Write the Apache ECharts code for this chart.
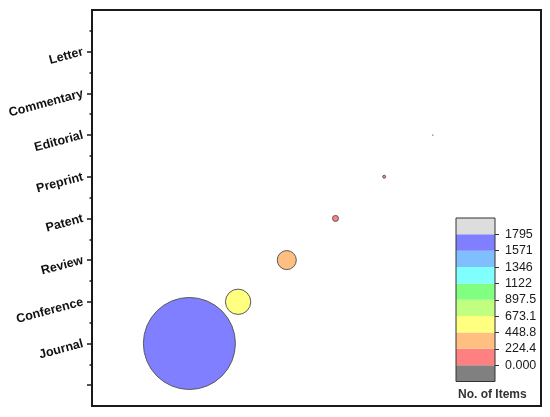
<!DOCTYPE html>
<html><head><meta charset="utf-8">
<script src="https://cdn.jsdelivr.net/npm/echarts@6/dist/echarts.min.js"></script>
<style>html,body{margin:0;padding:0;background:#fff}#c{width:550px;height:417px}</style>
</head><body><div id="c"></div>
<script>
const categories = ['Journal','Conference','Review','Patent','Preprint','Editorial','Commentary','Letter'];
const xPositions = [1,2,3,4,5,6,7,8];
const itemCounts = [1795,494,371,117,58,10,0,0];
const levelLabels = ['0.000','224.4','448.8','673.1','897.5','1122','1346','1571','1795'];
const levelStep = 224.375;
const levelColors = ['#808080','#FF8080','#FFBF80','#FFFF80','#C0FF80','#80FF80','#80FFFF','#80BFFF','#7F7FFF','#DDDDDD'];
const maxCount = 1795;

const FONT = 'Liberation Sans, Arial, sans-serif';
// y slots: index u = 2*v+1, v from -0.5 to 9
const slotCount = 20;
const slots = [];
for (let u = 0; u < slotCount; u++) {
  const k = (u - 1) / 2;
  slots.push(Number.isInteger(k) && k >= 1 && k <= categories.length ? categories[k - 1] : '');
}
const legendSlots = [''].concat(levelLabels, ['']);

const pieces = [{lt: 0, color: levelColors[0]}];
for (let i = 1; i <= 8; i++) {
  const lo = (i - 1) * levelStep, hi = i * levelStep;
  pieces.push(i === 8 ? {gte: lo, lte: hi, color: levelColors[i]} : {gte: lo, lt: hi, color: levelColors[i]});
}
pieces.push({gt: maxCount, color: levelColors[9]});

const barSeries = levelColors.map((c, i) => ({
  type: 'bar', stack: 'lv', xAxisIndex: 1, yAxisIndex: 2, barWidth: '100%', silent: true,
  data: [i === 0 ? -levelStep : levelStep], itemStyle: {color: c}
}));

const chart = echarts.init(document.getElementById('c'));
chart.setOption({
  animation: false,
  backgroundColor: '#fff',
  title: {text: 'No. of Items', left: 458, top: 389, padding: 0,
    textStyle: {fontSize: 12, fontWeight: 'bold', color: '#333', fontFamily: FONT}},
  grid: [
    {left: 92, top: 10, right: 9, bottom: 11, show: true, borderColor: '#1a1a1a', borderWidth: 2, backgroundColor: 'transparent'},
    {left: 456, top: 218, width: 39, height: 163.5, show: true, borderColor: '#333', borderWidth: 1, backgroundColor: 'transparent', z: 10}
  ],
  xAxis: [
    {type: 'value', gridIndex: 0, min: -1, max: 8.22, show: false},
    {type: 'category', gridIndex: 1, data: ['band'], show: false}
  ],
  yAxis: [
    {type: 'category', gridIndex: 0, data: slots, boundaryGap: false, position: 'left', offset: 0,
      axisLine: {show: true, onZero: false, lineStyle: {color: '#1a1a1a', width: 2}},
      axisTick: {show: true, length: 5, interval: (i) => i % 2 === 1 && i < slotCount - 1, lineStyle: {color: '#1a1a1a', width: 1.5}},
      axisLabel: {show: true, interval: (i) => slots[i] !== '', rotate: 15, margin: 9, padding: [0, 0, 6, 0],
        fontSize: 12.5, fontWeight: 'bold', color: '#111', fontFamily: FONT},
      splitLine: {show: false}},
    {type: 'category', gridIndex: 0, data: slots, boundaryGap: false, position: 'left', offset: 0,
      axisLine: {show: false, onZero: false},
      axisTick: {show: true, length: 2.5, interval: (i) => i % 2 === 0 && i > 0, lineStyle: {color: '#1a1a1a', width: 1.5}},
      axisLabel: {show: false}, splitLine: {show: false}},
    {type: 'value', gridIndex: 1, min: -levelStep, max: maxCount + levelStep, show: false},
    {type: 'category', gridIndex: 1, data: legendSlots, boundaryGap: false, position: 'right', offset: 0,
      axisLine: {show: false, onZero: false},
      axisTick: {show: true, length: 4, interval: (i) => i > 0 && i < legendSlots.length - 1, lineStyle: {color: '#333', width: 1}},
      axisLabel: {show: true, interval: (i) => i > 0 && i < legendSlots.length - 1, margin: 10,
        fontSize: 12.5, color: '#1a1a1a', fontFamily: FONT},
      splitLine: {show: false}}
  ],
  visualMap: {type: 'piecewise', show: false, dimension: 2, seriesIndex: 0, pieces: pieces},
  series: [
    {type: 'scatter', xAxisIndex: 0, yAxisIndex: 0,
      data: categories.map((c, i) => [xPositions[i], 2 * (i + 1) + 1, itemCounts[i]]),
      symbolSize: (v) => v[2] / maxCount * 92,
      itemStyle: {borderColor: '#5a5a5a', borderWidth: 1, opacity: 1}}
  ].concat(barSeries)
});
</script></body></html>
